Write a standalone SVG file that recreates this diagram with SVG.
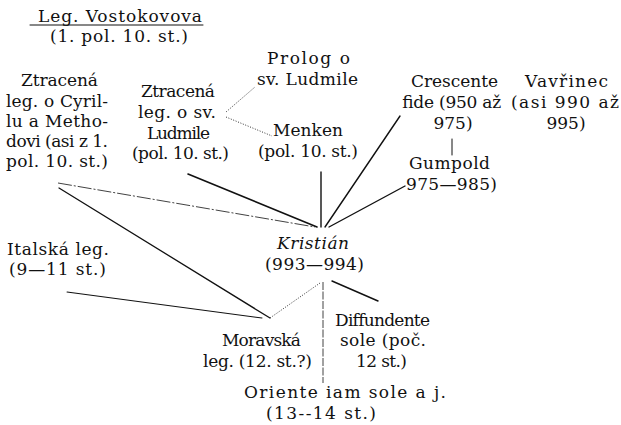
<svg xmlns="http://www.w3.org/2000/svg" width="621" height="425" viewBox="0 0 621 425">
<style>
text{font-family:"DejaVu Serif","Liberation Serif",serif;font-size:17px;fill:#111}
.c{text-anchor:middle}
.it{font-style:italic}
.s{stroke:#111;fill:none;stroke-linecap:round}
.dot{stroke:#333;fill:none;stroke-width:1;stroke-dasharray:1 1.6}
.dd{stroke:#111;fill:none;stroke-width:0.8;stroke-dasharray:14 2 2 2}
.ds{stroke:#111;fill:none;stroke-width:0.8;stroke-dasharray:8 1.5}
</style>
<rect width="621" height="425" fill="#fff"/>
<g id="connectors">
<line class="dd" x1="58" y1="183" x2="315" y2="227"/>
<line class="s" stroke-width="1.3" x1="59" y1="188" x2="270" y2="318"/>
<line class="s" stroke-width="1.1" x1="67" y1="292" x2="262" y2="318"/>
<line class="s" stroke-width="1.6" x1="188" y1="174" x2="317" y2="227"/>
<line class="s" stroke-width="1.4" x1="321" y1="172" x2="321" y2="227"/>
<line class="s" stroke-width="1.4" x1="400" y1="116" x2="325" y2="227"/>
<line class="s" stroke-width="1.4" x1="405" y1="186" x2="329" y2="227"/>
<line class="s" stroke-width="1" x1="452" y1="139" x2="452" y2="155"/>
<line class="dot" x1="226" y1="112" x2="255" y2="87"/>
<line class="dot" x1="226" y1="117" x2="272" y2="136"/>
<line class="dot" x1="320" y1="283" x2="270" y2="318"/>
<line class="ds" x1="323" y1="282" x2="323" y2="383"/>
<line class="s" stroke-width="1.4" x1="332" y1="281" x2="378" y2="301"/>
</g>
<g id="vostokovova">
<text x="38" y="22" textLength="164" lengthAdjust="spacing">Leg. Vostokovova</text>
<line class="s" stroke-width="1" x1="30" y1="25" x2="203" y2="25"/>
<text x="50" y="42" textLength="138" lengthAdjust="spacing">(1. pol. 10. st.)</text>
</g>
<g id="cyril">
<text x="21" y="86" textLength="77" lengthAdjust="spacing">Ztracená</text>
<text x="6" y="106.5" textLength="102" lengthAdjust="spacing">leg. o Cyril-</text>
<text x="6" y="127" textLength="102" lengthAdjust="spacing">lu a Metho-</text>
<text x="6" y="147" textLength="102" lengthAdjust="spacing">dovi (asi z 1.</text>
<text x="6" y="167" textLength="102" lengthAdjust="spacing">pol. 10. st.)</text>
</g>
<g id="ludmila">
<text x="141" y="97" textLength="74" lengthAdjust="spacing">Ztracená</text>
<text x="138" y="118" textLength="78" lengthAdjust="spacing">leg. o sv.</text>
<text x="147" y="138.5" textLength="63" lengthAdjust="spacing">Ludmile</text>
<text x="132" y="159" textLength="97" lengthAdjust="spacing">(pol. 10. st.)</text>
</g>
<g id="prolog">
<text x="267" y="64" textLength="83" lengthAdjust="spacing">Prolog o</text>
<text x="257" y="85" textLength="101" lengthAdjust="spacing">sv. Ludmile</text>
</g>
<g id="menken">
<text x="273" y="136" textLength="70" lengthAdjust="spacing">Menken</text>
<text x="258" y="157" textLength="100" lengthAdjust="spacing">(pol. 10. st.)</text>
</g>
<g id="crescente">
<text x="411" y="87" textLength="87" lengthAdjust="spacing">Crescente</text>
<text x="402" y="108" textLength="99" lengthAdjust="spacing">fide (950 až</text>
<text class="c" x="453" y="129">975)</text>
</g>
<g id="vavrinec">
<text x="525" y="87" textLength="83" lengthAdjust="spacing">Vavřinec</text>
<text x="511" y="108" textLength="108" lengthAdjust="spacing">(asi 990 až</text>
<text class="c" x="566" y="129">995)</text>
</g>
<g id="gumpold">
<text x="409" y="169" textLength="81" lengthAdjust="spacing">Gumpold</text>
<text x="406" y="190" textLength="91" lengthAdjust="spacing">975—985)</text>
</g>
<g id="kristian">
<text class="it" x="277" y="249" textLength="72" lengthAdjust="spacing">Kristián</text>
<text x="265" y="270" textLength="99" lengthAdjust="spacing">(993—994)</text>
</g>
<g id="italska">
<text x="7" y="255" textLength="102" lengthAdjust="spacing">Italská leg.</text>
<text x="9" y="275" textLength="97" lengthAdjust="spacing">(9—11 st.)</text>
</g>
<g id="moravska">
<text x="222" y="346" textLength="79" lengthAdjust="spacing">Moravská</text>
<text x="203" y="367" textLength="109" lengthAdjust="spacing">leg. (12. st.?)</text>
</g>
<g id="diffundente">
<text x="335" y="326" textLength="95" lengthAdjust="spacing">Diffundente</text>
<text x="340" y="346" textLength="86" lengthAdjust="spacing">sole (poč.</text>
<text x="356" y="367" textLength="51" lengthAdjust="spacing">12 st.)</text>
</g>
<g id="oriente">
<text x="244" y="398" textLength="202" lengthAdjust="spacing">Oriente iam sole a j.</text>
<text x="266" y="419" textLength="110" lengthAdjust="spacing">(13--14 st.)</text>
</g>
</svg>
